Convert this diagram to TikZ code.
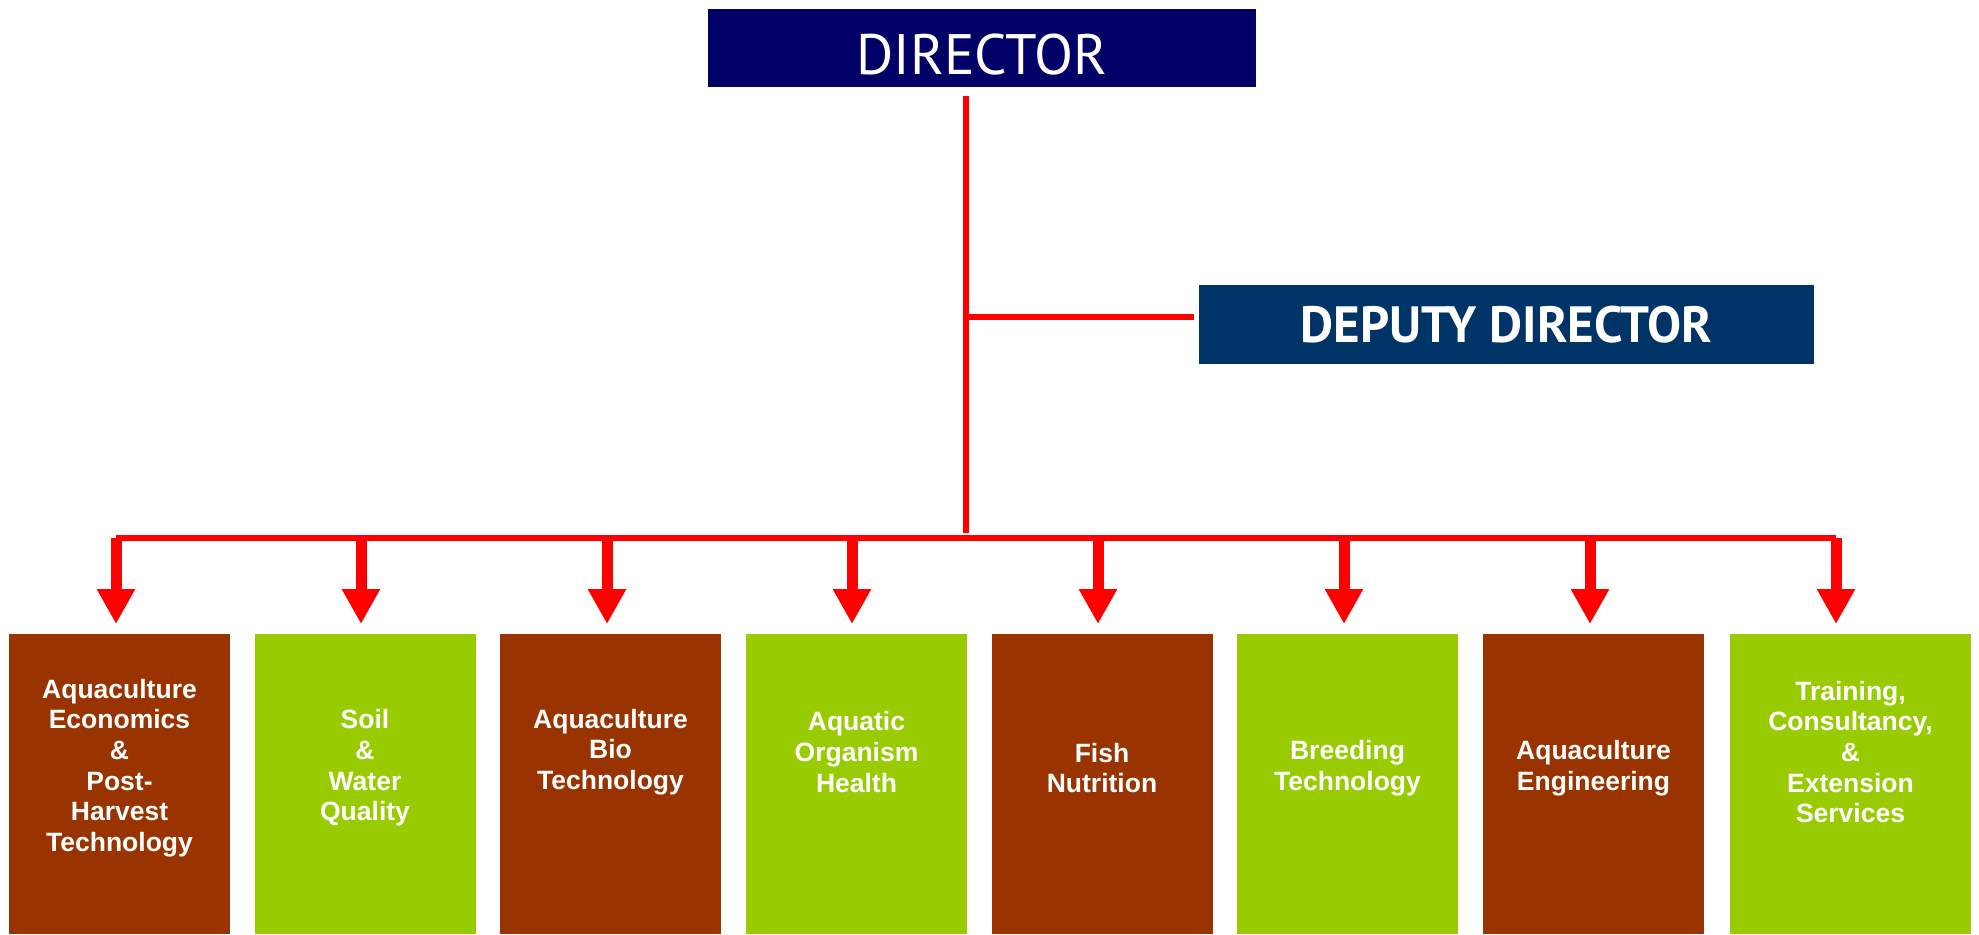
\documentclass[tikz,border=0pt]{standalone}
\usepackage{fontspec}
\setmainfont{Liberation Sans}
\newfontfamily\headfont{PT Sans}
\usepackage{xcolor}
\usepackage{tikz}
\usetikzlibrary{arrows.meta}

\definecolor{dirblue}{HTML}{000066}
\definecolor{depblue}{HTML}{003366}
\definecolor{unitbrown}{HTML}{993300}
\definecolor{unitgreen}{HTML}{99CC00}

\begin{document}
\begin{tikzpicture}[x=0.5pt, y=-0.5pt,
		redline/.style={draw=red, line width=3pt},
		redarrow/.style={draw=red, line width=5.5pt, -{Triangle[width=18pt, length=17.5pt]}, shorten >=5pt},
		unit/.style={anchor=north, minimum width=110.5pt, minimum height=150pt, inner sep=0pt},
		brownbox/.style={unit, fill=unitbrown},
		greenbox/.style={unit, fill=unitgreen},
		unittext/.style={text=white, align=center, font=\fontsize{13.25pt}{15.35pt}\selectfont\bfseries}]
		\useasboundingbox (0,0) rectangle (1979,934);

		\node[fill=dirblue, minimum width=274pt, minimum height=39pt, inner sep=0pt, text=white,
			font=\headfont\fontsize{28.5pt}{33pt}\selectfont, text height=26pt, text depth=0pt] (dir) at (982,48) {DIRECTOR};
		\node[fill=depblue, minimum width=307.5pt, minimum height=39.5pt, inner sep=0pt, text=white,
			font=\headfont\bfseries\fontsize{25.5pt}{30pt}\selectfont, text height=18pt, text depth=0pt] (dep) at (1506.5,324.5) {DEPUTY DIRECTOR};

		\node[brownbox] (b1) at (119.5,634) {};
		\node[greenbox] (b2) at (365,634) {};
		\node[brownbox] (b3) at (610.5,634) {};
		\node[greenbox] (b4) at (856.5,634) {};
		\node[brownbox] (b5) at (1102,634) {};
		\node[greenbox] (b6) at (1347.5,634) {};
		\node[brownbox] (b7) at (1593.5,634) {};
		\node[greenbox, minimum width=120.5pt] (b8) at (1850.5,634) {};

		\node[unittext] (t1) at ([yshift=-67pt]b1.north) {Aquaculture\\Economics\\\&\\Post-\\Harvest\\Technology};
		\node[unittext] (t2) at ([yshift=-67pt]b2.north) {Soil\\\&\\Water\\Quality};
		\node[unittext] (t3) at ([yshift=-59pt]b3.north) {Aquaculture\\Bio\\Technology};
		\node[unittext] (t4) at ([yshift=-59pt]b4.north) {Aquatic\\Organism\\Health};
		\node[unittext] (t5) at ([yshift=-67pt]b5.north) {Fish\\Nutrition};
		\node[unittext] (t6) at ([yshift=-67pt]b6.north) {Breeding\\Technology};
		\node[unittext] (t7) at ([yshift=-67pt]b7.north) {Aquaculture\\Engineering};
		\node[unittext] (t8) at ([yshift=-59pt]b8.north) {Training,\\Consultancy,\\\&\\Extension\\Services};

		\coordinate (j) at (966,317);
		\coordinate (trunk) at (966,533);
		\coordinate (c1) at (116,538);
		\coordinate (c2) at (361,538);
		\coordinate (c3) at (607,538);
		\coordinate (c4) at (852,538);
		\coordinate (c5) at (1098,538);
		\coordinate (c6) at (1344,538);
		\coordinate (c7) at (1590,538);
		\coordinate (c8) at (1836,538);

		\draw[redline, shorten <=4.5pt] (dir.south -| trunk) -- (trunk);
		\draw[redline, shorten >=2.5pt] (j) -- (j -| dep.west);
		\draw[redline] (c1) -- (c8);

		\draw[redarrow] (c1) -- (c1 |- b1.north);
		\draw[redarrow] (c2) -- (c2 |- b2.north);
		\draw[redarrow] (c3) -- (c3 |- b3.north);
		\draw[redarrow] (c4) -- (c4 |- b4.north);
		\draw[redarrow] (c5) -- (c5 |- b5.north);
		\draw[redarrow] (c6) -- (c6 |- b6.north);
		\draw[redarrow] (c7) -- (c7 |- b7.north);
		\draw[redarrow] (c8) -- (c8 |- b8.north);
	\end{tikzpicture}
\end{document}
